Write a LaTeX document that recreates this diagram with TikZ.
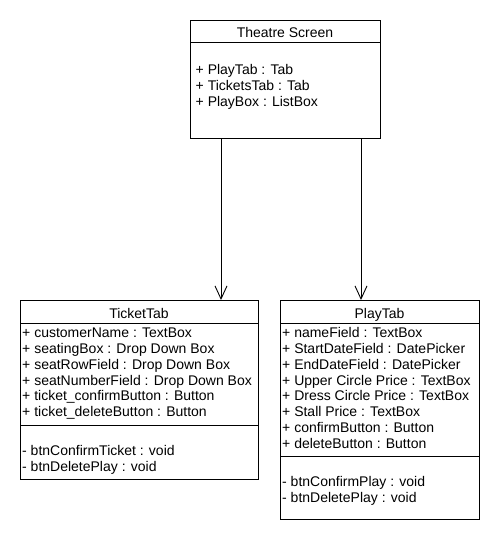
\documentclass[tikz,border=0pt]{standalone}
\usepackage{fontspec}
\setmainfont{Liberation Sans}
\usetikzlibrary{positioning, arrows.meta, calc}
\tikzset{
  >={Straight Barb[length=13pt, width=12pt, line width=0.9pt]},
  every node/.style={font=\fontsize{14}{16}\selectfont},
  classbox/.style={
    rectangle, draw=black, line width=1pt, fill=white,
    inner sep=0pt, outer sep=0pt, anchor=north west
  },
  classtitle/.style={anchor=base, inner sep=0pt},
  member/.style={anchor=base west, inner sep=0pt},
  divider/.style={draw=black, line width=1pt},
  assoc/.style={->, draw=black, line width=1pt}
}

\begin{document}
\begin{tikzpicture}[x=1pt, y=-1pt]
\useasboundingbox (0,0) rectangle (500,540);

% ── Theatre Screen (top) ─────────────────────────────────────────────────────
\node[classbox, minimum width=190pt, minimum height=118pt] (screen) at (190,21) {};
\node[classtitle] (screentitle) at (285,37.7) {Theatre Screen};
\draw[divider] (190,43) -- (380,43);
\foreach \txt [count=\i from 0] in {+ PlayTab : Tab, + TicketsTab : Tab, + PlayBox : ListBox}
  \node[member] (screen-\i) at (195.5,75+15.8*\i) {\txt};

% ── TicketTab (bottom left) ──────────────────────────────────────────────────
\node[classbox, minimum width=238pt, minimum height=179pt] (ticket) at (20,300) {};
\node[classtitle] (tickettitle) at (139,318.3) {TicketTab};
\draw[divider] (20,323) -- (258,323);
\foreach \txt [count=\i from 0] in {%
    + customerName : TextBox,
    + seatingBox : Drop Down Box,
    + seatRowField : Drop Down Box,
    + seatNumberField : Drop Down Box,
    + ticket\_confirmButton : Button,
    + ticket\_deleteButton : Button}
  \node[member] (ticket-\i) at (22,337.7+15.8*\i) {\txt};
\draw[divider] (20,425) -- (258,425);
\node[member] (ticketop-0) at (22,455.7) {- btnConfirmTicket : void};
\node[member] (ticketop-1) at (22,471.5) {- btnDeletePlay : void};

% ── PlayTab (bottom right) ───────────────────────────────────────────────────
\node[classbox, minimum width=199pt, minimum height=219pt] (play) at (280,300) {};
\node[classtitle] (playtitle) at (379.5,318.3) {PlayTab};
\draw[divider] (280,323) -- (479,323);
\foreach \txt [count=\i from 0] in {%
    + nameField : TextBox,
    + StartDateField : DatePicker,
    + EndDateField : DatePicker,
    + Upper Circle Price : TextBox,
    + Dress Circle Price : TextBox,
    + Stall Price : TextBox,
    + confirmButton : Button,
    + deleteButton : Button}
  \node[member] (play-\i) at (282,337.7+15.8*\i) {\txt};
\draw[divider] (280,456) -- (479,456);
\node[member] (playop-0) at (282,486.7) {- btnConfirmPlay : void};
\node[member] (playop-1) at (282,502.5) {- btnDeletePlay : void};

% ── Associations ─────────────────────────────────────────────────────────────
\coordinate (toticket) at (221,0);
\coordinate (toplay) at (361,0);
\draw[assoc] (screen.south -| toticket) -- (ticket.north -| toticket);
\draw[assoc] (screen.south -| toplay) -- (play.north -| toplay);

\end{tikzpicture}
\end{document}
